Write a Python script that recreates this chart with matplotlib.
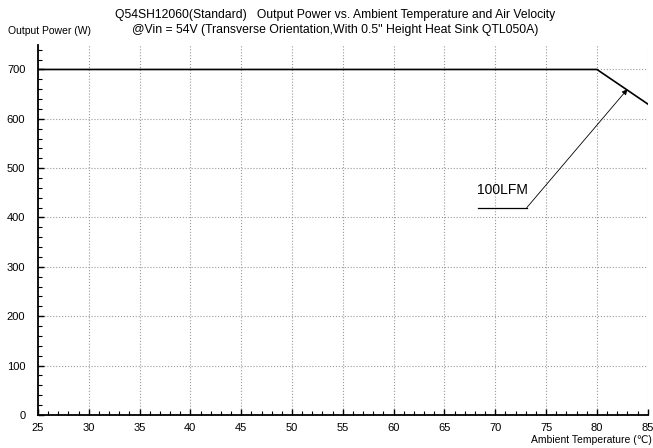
import matplotlib
matplotlib.use("Agg")
import matplotlib.pyplot as plt
from matplotlib.ticker import MultipleLocator

plt.rcParams['font.family'] = ['Liberation Sans', 'DejaVu Sans']

temp = [25, 80, 85]
power = [700, 700, 630]
xticks = list(range(25, 90, 5))
yticks = list(range(0, 800, 100))
label_text = "100LFM"
label_line_x = [68.3, 73.1]
label_line_y = [420, 420]
arrow_tip = (83.0, 660)

fig = plt.figure(figsize=(6.53, 4.48), dpi=100)
ax = fig.add_axes([0.058, 0.074, 0.934, 0.826])

ax.plot(temp, power, color='black', lw=1.2, zorder=3)
ax.plot(label_line_x, label_line_y, color='black', lw=0.9, zorder=3)
ax.annotate("", xy=arrow_tip, xytext=(label_line_x[1], label_line_y[1]),
            arrowprops=dict(arrowstyle='-|>', color='black', lw=0.6,
                            mutation_scale=8, shrinkA=0, shrinkB=0), zorder=3)
ax.text(70.7, 441, label_text, ha='center', va='bottom', fontsize=10)

ax.set_xlim(25, 85)
ax.set_ylim(0, 750)
ax.set_xticks(xticks)
ax.set_yticks(yticks)
ax.xaxis.set_minor_locator(MultipleLocator(1))
ax.yaxis.set_minor_locator(MultipleLocator(20))
ax.tick_params(which='both', direction='in', labelsize=8, color='black')
ax.tick_params(which='major', length=4, width=1)
ax.tick_params(which='minor', length=3, width=0.8)
ax.tick_params(axis='x', pad=6)
ax.tick_params(axis='y', pad=9)
ax.grid(True, which='major', color='#999999', linestyle=':', lw=0.8)
ax.spines['top'].set_visible(False)
ax.spines['right'].set_visible(False)
ax.spines['left'].set_linewidth(1.3)
ax.spines['bottom'].set_linewidth(1.3)

fig.text(0.513, 0.966, "Q54SH12060(Standard)   Output Power vs. Ambient Temperature and Air Velocity",
         ha='center', va='center', fontsize=8.7)
fig.text(0.513, 0.932, "@Vin = 54V (Transverse Orientation,With 0.5\" Height Heat Sink QTL050A)",
         ha='center', va='center', fontsize=8.8)
fig.text(0.012, 0.930, "Output Power (W)", ha='left', va='center', fontsize=7.5)
fig.text(0.998, 0.018, "Ambient Temperature (℃)", ha='right', va='center', fontsize=7.5)

fig.savefig("out.png", dpi=100)
